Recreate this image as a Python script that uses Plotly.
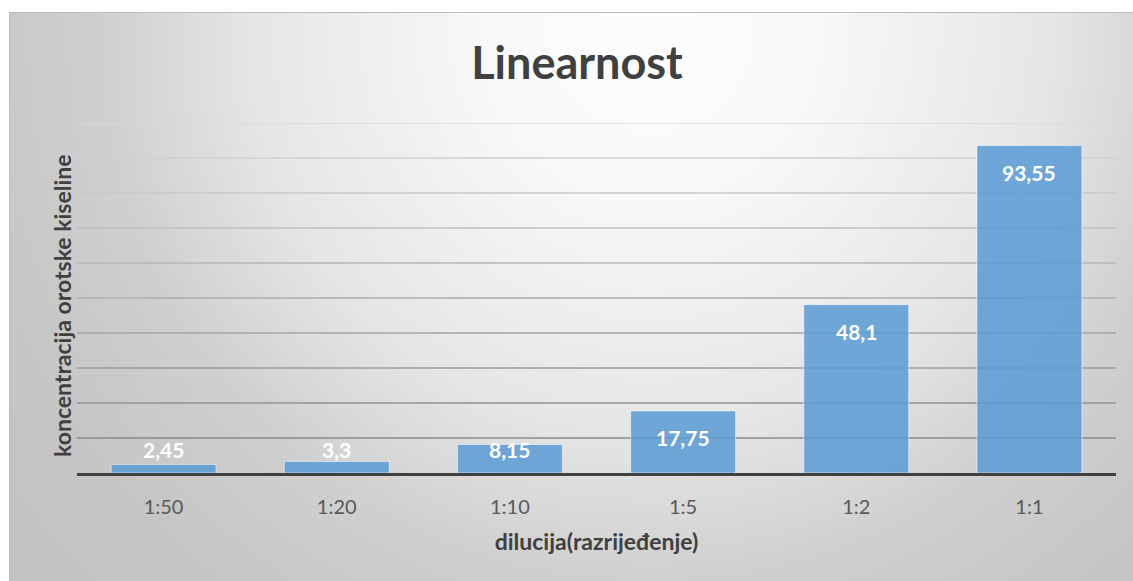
import base64
import struct
import zlib

import numpy as np
import plotly.graph_objects as go

# ---------------- data ----------------
categories = ["1:50", "1:20", "1:10", "1:5", "1:2", "1:1"]
values = [2.45, 3.3, 8.15, 17.75, 48.1, 93.55]
value_labels = ["2,45", "3,3", "8,15", "17,75", "48,1", "93,55"]
grid_values = [10, 20, 30, 40, 50, 60, 70, 80, 90, 100]

title_text = "Linearnost"
x_title = "dilucija(razrijeđenje)"
y_title = "koncentracija orotske kiseline"

# ---------------- layout constants ----------------
W, H = 1133, 581
ML, MR, MT, MB = 77, 17, 123, 108
PW, PH = W - ML - MR, H - MT - MB
Y_MAX = 100
PX_PER_UNIT = PH / Y_MAX
FONT = "Lato"

# ---------------- radial-gradient background (PNG) ----------------
BX0, BY0 = 9, 12
BW, BH = W - BX0, H - BY0
yy, xx = np.mgrid[0:BH, 0:BW]
d = np.sqrt((xx + BX0 - 650.0) ** 2 + (yy + BY0 - 30.0) ** 2)
gray = np.interp(d, [0, 150, 400, 550, 700, 950], [253, 250, 230, 208, 198, 192])
gray = np.clip(gray, 0, 255).astype(np.uint8)
raw = b"".join(b"\x00" + gray[r].tobytes() for r in range(BH))


def _chunk(tag, data):
    c = tag + data
    return struct.pack(">I", len(data)) + c + struct.pack(">I", zlib.crc32(c) & 0xFFFFFFFF)


png = (b"\x89PNG\r\n\x1a\n"
       + _chunk(b"IHDR", struct.pack(">IIBBBBB", BW, BH, 8, 0, 0, 0, 0))
       + _chunk(b"IDAT", zlib.compress(raw, 9))
       + _chunk(b"IEND", b""))
bg_uri = "data:image/png;base64," + base64.b64encode(png).decode()

px_x = lambda p: (p - ML) / PW
px_y = lambda p: 1 - (p - MT) / PH

fig = go.Figure()
fig.add_trace(go.Bar(
    x=categories,
    y=values,
    marker=dict(color="rgba(91,155,213,0.86)",
                line=dict(color="rgba(255,255,255,0.55)", width=1)),
    hoverinfo="x+y",
))

# data labels (Excel "inside end", clamped above the axis)
annotations = []
for c, v, t in zip(categories, values, value_labels):
    if v * PX_PER_UNIT - 27 >= 24:
        y, shift = v, -27
    else:
        y, shift = 0, 24
    annotations.append(dict(x=c, y=y, xref="x", yref="y", text=t, showarrow=False,
                            yshift=shift, yanchor="middle",
                            font=dict(family=FONT, size=21, color="white", weight="bold")))

# y-axis title
annotations.append(dict(text=y_title, xref="paper", yref="paper", x=px_x(62), y=px_y(306),
                        xanchor="center", yanchor="middle", textangle=-90, showarrow=False,
                        font=dict(family=FONT, size=23, color="#404040", weight="bold")))

# gridlines with a gentle shade change (lighter at top)
shapes = []
c_lo, c_hi = np.array([138, 138, 138]), np.array([218, 218, 218])
for g in grid_values:
    f = (g - grid_values[0]) / (grid_values[-1] - grid_values[0])
    col = (c_lo + (c_hi - c_lo) * f).astype(int)
    shapes.append(dict(type="line", xref="paper", yref="y", x0=0, x1=1, y0=g, y1=g,
                       layer="below", line=dict(color=f"rgb({col[0]},{col[1]},{col[2]})", width=1.5)))

# chart-area border
shapes.append(dict(type="rect", xref="paper", yref="paper",
                   x0=px_x(BX0 + 0.5), x1=px_x(W + 5), y0=px_y(H + 5), y1=px_y(BY0 + 0.5),
                   layer="below", line=dict(color="#bcbcbc", width=1), fillcolor="rgba(0,0,0,0)"))

fig.update_layout(
    width=W, height=H,
    margin=dict(l=ML, r=MR, t=MT, b=MB, autoexpand=False),
    paper_bgcolor="white",
    plot_bgcolor="rgba(0,0,0,0)",
    bargap=0.394,
    showlegend=False,
    title=dict(text=title_text, x=577 / W, xref="container",
               xanchor="center", y=1 - 63 / H, yanchor="middle",
               font=dict(family=FONT, size=45, color="#404040", weight="bold")),
    images=[dict(source=bg_uri, xref="paper", yref="paper",
                 x=px_x(BX0), y=px_y(BY0), sizex=BW / PW, sizey=BH / PH,
                 xanchor="left", yanchor="top", sizing="stretch", layer="below")],
    annotations=annotations,
    shapes=shapes,
    xaxis=dict(
        showgrid=False, zeroline=False,
        showline=True, linecolor="#404040", linewidth=3,
        ticks="", ticklabelstandoff=14,
        tickfont=dict(family=FONT, size=20, color="#595959"),
        title=dict(text=x_title, standoff=17,
                   font=dict(family=FONT, size=23, color="#404040", weight="bold")),
    ),
    yaxis=dict(
        range=[0, Y_MAX], showgrid=False, zeroline=False, showline=False,
        showticklabels=False, ticks="",
    ),
)

fig.write_html("out.html", post_script="document.body.style.margin='0';",
               config={"displayModeBar": False})
